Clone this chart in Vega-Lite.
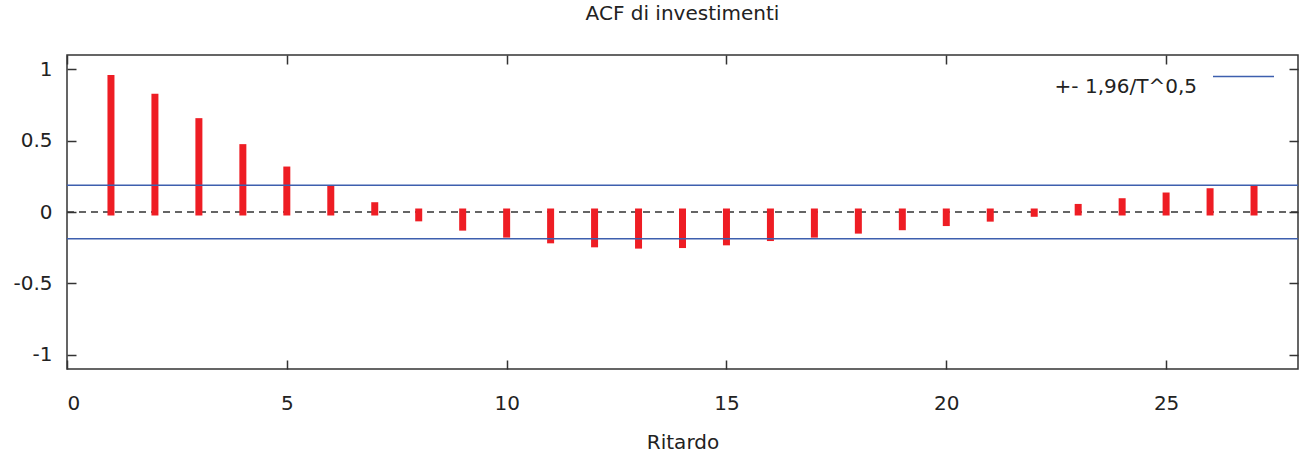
{
  "$schema": "https://vega.github.io/schema/vega-lite/v6.json",
  "autosize": "none",
  "width": 1231,
  "height": 314,
  "padding": {"left": 67, "top": 55, "right": 7, "bottom": 85},
  "background": "white",
  "title": {
    "text": "ACF di investimenti",
    "font": "DejaVu Sans",
    "fontSize": 20,
    "fontWeight": "normal",
    "color": "#222222",
    "anchor": "middle",
    "offset": 21
  },
  "datasets": {
    "acf": [
      {"lag": 1, "acf": 0.935},
      {"lag": 2, "acf": 0.804},
      {"lag": 3, "acf": 0.633},
      {"lag": 4, "acf": 0.451},
      {"lag": 5, "acf": 0.294},
      {"lag": 6, "acf": 0.163},
      {"lag": 7, "acf": 0.044},
      {"lag": 8, "acf": -0.041},
      {"lag": 9, "acf": -0.106},
      {"lag": 10, "acf": -0.155},
      {"lag": 11, "acf": -0.195},
      {"lag": 12, "acf": -0.223},
      {"lag": 13, "acf": -0.232},
      {"lag": 14, "acf": -0.228},
      {"lag": 15, "acf": -0.209},
      {"lag": 16, "acf": -0.179},
      {"lag": 17, "acf": -0.155},
      {"lag": 18, "acf": -0.127},
      {"lag": 19, "acf": -0.103},
      {"lag": 20, "acf": -0.074},
      {"lag": 21, "acf": -0.043},
      {"lag": 22, "acf": -0.009},
      {"lag": 23, "acf": 0.032},
      {"lag": 24, "acf": 0.072},
      {"lag": 25, "acf": 0.112},
      {"lag": 26, "acf": 0.142},
      {"lag": 27, "acf": 0.161}
    ],
    "bande": [
      {"serie": "+- 1,96/T^0,5", "limite": 0.187},
      {"serie": "+- 1,96/T^0,5", "limite": -0.187}
    ]
  },
  "layer": [
    {
      "data": {"values": [{}]},
      "mark": {"type": "rule", "color": "#333333", "strokeWidth": 1.5, "strokeDash": [7, 5]},
      "encoding": {
        "y": {
          "datum": 0,
          "type": "quantitative",
          "scale": {"domain": [-1.1, 1.1], "nice": false, "zero": false},
          "axis": {
            "orient": "left",
            "values": [-1, -0.5, 0, 0.5, 1],
            "format": "~g",
            "labelExpr": "replace(datum.label, '\u2212', '-')",
            "title": null
          }
        }
      }
    },
    {
      "data": {"name": "acf"},
      "mark": {"type": "rule", "color": "#ee1d24", "strokeWidth": 7, "strokeCap": "square"},
      "encoding": {
        "x": {
          "field": "lag",
          "type": "quantitative",
          "scale": {"domain": [0, 28], "nice": false, "zero": false},
          "axis": {
            "orient": "bottom",
            "values": [0, 5, 10, 15, 20, 25],
            "title": "Ritardo"
          }
        },
        "y": {"field": "acf", "type": "quantitative", "axis": null},
        "y2": {"datum": 0}
      }
    },
    {
      "data": {"name": "bande"},
      "mark": {"type": "rule", "strokeWidth": 1.5},
      "encoding": {
        "y": {
          "field": "limite",
          "type": "quantitative",
          "axis": {"orient": "right", "values": [-1, -0.5, 0, 0.5, 1], "labels": false, "title": null}
        },
        "x": {"datum": 0, "type": "quantitative", "axis": {"orient": "top", "values": [0, 5, 10, 15, 20, 25], "labels": false, "title": null}},
        "x2": {"datum": 28},
        "color": {
          "field": "serie",
          "type": "nominal",
          "scale": {"range": ["#3d5fae"]},
          "legend": {
            "orient": "none",
            "legendX": 1145,
            "legendY": -10,
            "padding": 0,
            "title": null,
            "symbolType": "stroke",
            "symbolSize": 3721,
            "symbolStrokeWidth": 1.5,
            "labelAlign": "right",
            "labelBaseline": "top",
            "labelOffset": -78,
            "labelFont": "DejaVu Sans",
            "labelFontSize": 20,
            "labelColor": "#222222",
            "labelLimit": 400
          }
        }
      }
    }
  ],
  "resolve": {"axis": {"x": "independent", "y": "independent"}},
  "config": {
    "view": {"stroke": "#333333", "strokeWidth": 1.5},
    "axis": {
      "domain": false,
      "grid": false,
      "ticks": true,
      "tickSize": -9,
      "tickColor": "#333333",
      "tickWidth": 1.5,
      "labelFont": "DejaVu Sans",
      "labelFontSize": 20,
      "labelColor": "#222222",
      "titleFont": "DejaVu Sans",
      "titleFontSize": 20,
      "titleFontWeight": "normal",
      "titleColor": "#222222"
    },
    "axisLeft": {"labelPadding": 24},
    "axisBottom": {"labelPadding": 33, "titlePadding": 19}
  }
}
